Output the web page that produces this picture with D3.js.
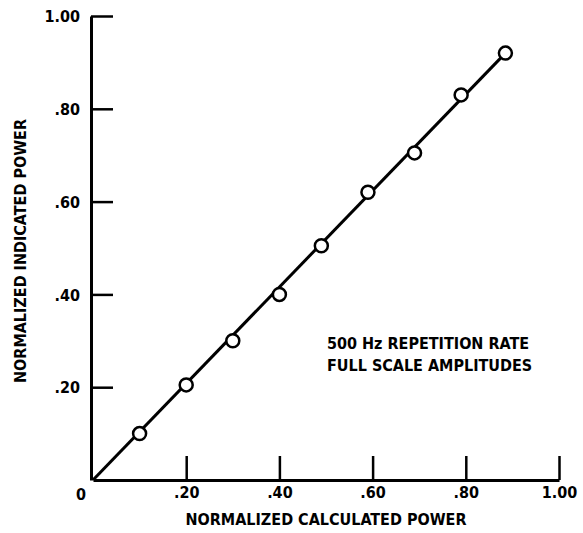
<!DOCTYPE html>
<html>
<head>
<meta charset="utf-8">
<script src="https://cdn.jsdelivr.net/npm/d3@7"></script>
<style>
  body { margin: 0; background: #fff; }
  svg text { font-family: "DejaVu Sans", sans-serif; font-stretch: condensed; font-weight: bold; fill: #000; }
</style>
</head>
<body>
<script>
var calculated = [0.10, 0.20, 0.30, 0.40, 0.49, 0.59, 0.69, 0.79, 0.885];
var indicated  = [0.10, 0.205, 0.30, 0.40, 0.505, 0.62, 0.705, 0.83, 0.92];

// straight line through the points, drawn from the origin
var fitX = [0, 0.885];
var fitY = [0, 0.92];

var tickValues = [0.2, 0.4, 0.6, 0.8, 1.0];
var xTitle = "NORMALIZED CALCULATED POWER";
var yTitle = "NORMALIZED INDICATED POWER";
var noteLines = ["500 Hz REPETITION RATE", "FULL SCALE AMPLITUDES"];

var width = 583, height = 533;

var x = d3.scaleLinear().domain([0, 1]).range([93, 559]);
var y = d3.scaleLinear().domain([0, 1]).range([480, 16]);

var fmt = function(d) { return d === 1 ? "1.00" : d3.format(".2f")(d).replace("0.", "."); };

var svg = d3.select("body").append("svg")
    .attr("width", width)
    .attr("height", height);

var xAxis = d3.axisBottom(x)
    .tickValues(tickValues)
    .tickFormat(fmt)
    .tickSizeInner(-24)
    .tickSizeOuter(0)
    .tickPadding(7);

var yAxis = d3.axisLeft(y)
    .tickValues(tickValues)
    .tickFormat(fmt)
    .tickSizeInner(-22)
    .tickSizeOuter(0)
    .tickPadding(11);

var gx = svg.append("g")
    .attr("transform", "translate(0," + y(0) + ")")
    .call(xAxis);

var gy = svg.append("g")
    .attr("transform", "translate(" + (x(0) - 2) + ",0)")
    .call(yAxis);

[gx, gy].forEach(function(g) {
  g.select(".domain").attr("stroke", "#000").attr("stroke-width", 3);
  g.selectAll(".tick line").attr("stroke", "#000").attr("stroke-width", 2.5);
  g.selectAll(".tick text").style("font-size", "16px");
});
gy.selectAll(".tick text").attr("dy", "0.35em");

// zero label at the origin
svg.append("text")
    .attr("x", x(0) - 12)
    .attr("y", y(0) + 20)
    .attr("text-anchor", "middle")
    .style("font-size", "16px")
    .text("0");

// fitted line
svg.append("path")
    .datum(d3.zip(fitX, fitY))
    .attr("fill", "none")
    .attr("stroke", "#000")
    .attr("stroke-width", 3)
    .attr("d", d3.line().x(function(d) { return x(d[0]); }).y(function(d) { return y(d[1]); }));

svg.append("g")
  .selectAll("circle")
    .data(d3.zip(calculated, indicated))
  .enter().append("circle")
    .attr("cx", function(d) { return x(d[0]); })
    .attr("cy", function(d) { return y(d[1]); })
    .attr("r", 6.5)
    .attr("fill", "#fff")
    .attr("stroke", "#000")
    .attr("stroke-width", 2.5);

// axis titles
svg.append("text")
    .attr("x", 326)
    .attr("y", 525)
    .attr("text-anchor", "middle")
    .style("font-size", "16px")
    .text(xTitle);

svg.append("text")
    .attr("transform", "translate(26,251) rotate(-90)")
    .attr("text-anchor", "middle")
    .style("font-size", "16px")
    .text(yTitle);

svg.append("g")
  .selectAll("text")
    .data(noteLines)
  .enter().append("text")
    .attr("x", 327)
    .attr("y", function(d, i) { return 349 + i * 22; })
    .style("font-size", "16px")
    .text(function(d) { return d; });
</script>
</body>
</html>
